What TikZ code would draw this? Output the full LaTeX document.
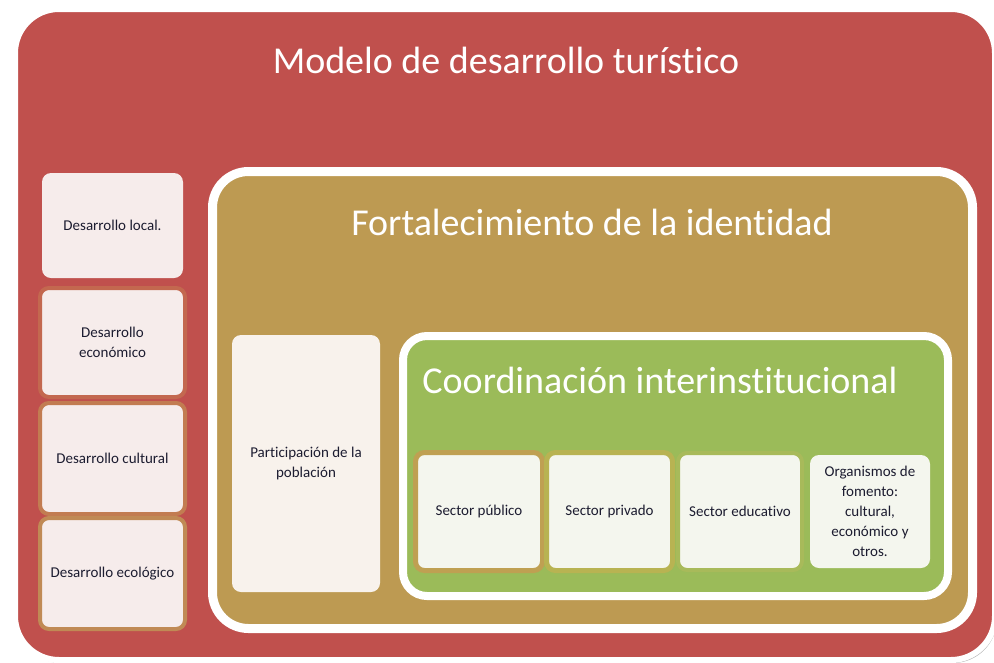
\documentclass[tikz,border=0pt]{standalone}
\usepackage{fontspec}
\setmainfont{Carlito}[Ligatures={NoCommon}]
\usetikzlibrary{shadows}
\definecolor{redbg}{HTML}{C0504D}
\definecolor{goldbg}{HTML}{BD9A52}
\definecolor{greenbg}{HTML}{9BBB59}
\definecolor{pinkfill}{HTML}{F6ECEB}
\definecolor{creamfill}{HTML}{F8F2EC}
\definecolor{greenfill}{HTML}{F4F6EE}
\definecolor{txt}{HTML}{1C1C30}
\definecolor{bordA}{HTML}{C3684F}
\definecolor{bordB}{HTML}{C27C51}
\definecolor{bordC}{HTML}{C08A55}
\definecolor{bordD}{HTML}{BFA052}
\definecolor{bordE}{HTML}{B8B352}
\definecolor{bordF}{HTML}{A8BA5A}
\tikzset{
  container/.style={draw=white, rounded corners=#1, inner sep=0pt, outer sep=0pt,
     drop shadow={shadow xshift=2pt, shadow yshift=-3pt, opacity=0.3, fill=black}},
  smallbox/.style={rounded corners=9pt, inner sep=0pt, outer sep=0pt, line width=4pt,
     text=txt, align=center, font=\fontsize{15}{20}\selectfont},
  titletext/.style={text=white, anchor=base, inner sep=0pt, font=\fontsize{38}{40}\selectfont}
}
\begin{document}
\begin{tikzpicture}[x=1pt,y=-1pt]
\useasboundingbox (0,0) rectangle (994,662);
\clip (0,0) rectangle (994,662);
% outer red container
\node[container=44pt, fill=redbg, line width=6pt, minimum width=980pt, minimum height=651pt,
      drop shadow={shadow xshift=1pt, shadow yshift=-2pt, opacity=0.25, fill=black}] (outer) at (505,334.5) {};
\node[titletext] (t1) at (506,73) {Modelo de desarrollo turístico};
% left column
\node[smallbox, fill=pinkfill, minimum width=141pt, minimum height=105pt] (dl) at (112.5,225.5) {Desarrollo local.};
\node[smallbox, fill=pinkfill, draw=bordA, minimum width=145pt, minimum height=109pt] (de) at (112.5,342.5) {Desarrollo\\económico};
\node[smallbox, fill=pinkfill, draw=bordB, minimum width=145pt, minimum height=111pt] (dc) at (112.5,458.5) {Desarrollo cultural};
\node[smallbox, fill=pinkfill, draw=bordC, minimum width=145pt, minimum height=111pt] (dg) at (112.5,573.5) {Desarrollo ecológico};
% gold container
\node[container=36pt, fill=goldbg, line width=9pt, minimum width=760pt, minimum height=457pt] (gold) at (592.5,400) {};
\node[titletext] (t2) at (592,235) {Fortalecimiento de la identidad};
\node[smallbox, fill=creamfill, minimum width=148pt, minimum height=257pt] (pp) at (306,463.5) {Participación de la\\población};
% green container
\node[container=24pt, fill=greenbg, line width=8pt, minimum width=545pt, minimum height=260pt] (green) at (675.5,466) {};
\node[titletext] (t3) at (660,393) {Coordinación interinstitucional};
\node[smallbox, fill=greenfill, draw=bordD, line width=5pt, minimum width=127pt, minimum height=118pt] (sp) at (479,511.5) {Sector público};
\node[smallbox, fill=greenfill, draw=bordE, line width=5pt, minimum width=126pt, minimum height=118pt] (sv) at (609.5,511.5) {Sector privado};
\node[smallbox, fill=greenfill, draw=bordF, line width=4pt, minimum width=124pt, minimum height=117pt] (se) at (740,511.5) {Sector educativo};
\node[smallbox, fill=greenfill, minimum width=120pt, minimum height=113pt] (of) at (870,511.5) {Organismos de\\fomento:\\cultural,\\económico y\\otros.};
\end{tikzpicture}
\end{document}
